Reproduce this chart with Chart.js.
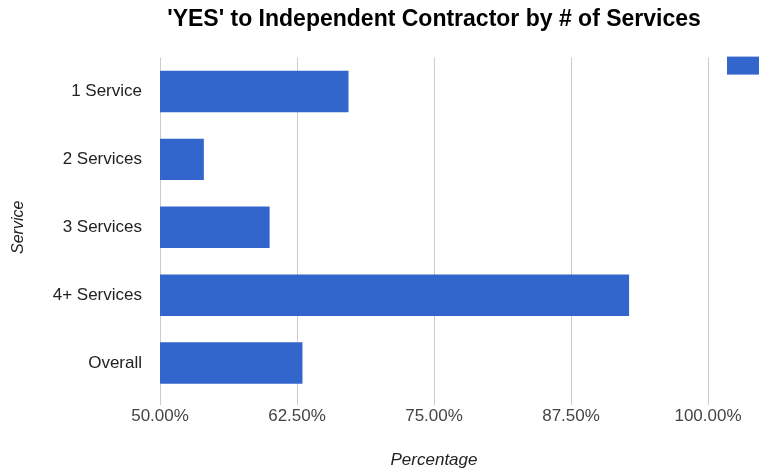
<!DOCTYPE html>
<html>
<head>
<meta charset="utf-8">
<script src="https://cdn.jsdelivr.net/npm/chart.js@4/dist/chart.umd.min.js"></script>
<style>
  html, body { margin: 0; padding: 0; background: #fff; overflow: hidden; }
  #wrap { width: 759px; height: 472px; }
</style>
</head>
<body>
<div id="wrap"><canvas id="chart"></canvas></div>
<script>
// values
const categories = ["1 Service", "2 Services", "3 Services", "4+ Services", "Overall"];
const yesValues = [67.2, 54.0, 60.0, 92.8, 63.0];
const xTicks = [50, 62.5, 75, 87.5, 100];

const barBlue = "#3366cc";
const fontFam = "'Liberation Sans', Arial, sans-serif";

// legend swatch sits just right of the plot, cut off by the window edge
const sideLegend = {
  id: "sideLegend",
  afterDraw(chart) {
    const ctx = chart.ctx;
    const area = chart.chartArea;
    ctx.save();
    ctx.fillStyle = barBlue;
    ctx.fillRect(area.right + 19, area.top - 1, 40, 18);
    ctx.fillStyle = "#222";
    ctx.font = "17px " + fontFam;
    ctx.textBaseline = "middle";
    ctx.fillText("Percentage", area.right + 65, area.top + 8);
    ctx.restore();
  }
};

new Chart(document.getElementById("chart"), {
  type: "bar",
  data: {
    labels: categories,
    datasets: [{
      label: "Percentage",
      data: yesValues,
      backgroundColor: barBlue,
      borderWidth: 0,
      categoryPercentage: 1,
      barPercentage: 0.61
    }]
  },
  options: {
    indexAxis: "y",
    responsive: true,
    maintainAspectRatio: false,
    animation: false,
    layout: { padding: { right: 51 } },
    plugins: {
      legend: { display: false },
      tooltip: { enabled: false },
      title: {
        display: true,
        text: "'YES' to Independent Contractor by # of Services",
        fullSize: false,
        color: "#000",
        font: { family: fontFam, size: 23, weight: "bold" },
        padding: { top: 6, bottom: 24 }
      }
    },
    scales: {
      x: {
        min: 50,
        max: 100,
        afterBuildTicks(scale) {
          scale.ticks = xTicks.map(v => ({ value: v }));
        },
        afterFit(scale) { scale.height = 75; },
        grid: { color: "#cccccc", tickLength: 8, tickColor: "#cccccc" },
        border: { display: false },
        ticks: {
          color: "#444",
          padding: 1,
          font: { family: fontFam, size: 17 },
          callback: v => v.toFixed(2) + "%"
        },
        title: {
          display: true,
          text: "Percentage",
          color: "#222",
          padding: { top: 4, bottom: 2 },
          font: { family: fontFam, size: 17, style: "italic" }
        }
      },
      y: {
        afterFit(scale) { scale.width = 160; },
        grid: { display: false, drawTicks: false },
        border: { display: false },
        ticks: {
          color: "#222",
          padding: 18,
          font: { family: fontFam, size: 17 }
        },
        title: {
          display: true,
          text: "Service",
          color: "#222",
          padding: { top: 9, bottom: 4 },
          font: { family: fontFam, size: 16, style: "italic" }
        }
      }
    }
  },
  plugins: [sideLegend]
});
</script>
</body>
</html>
